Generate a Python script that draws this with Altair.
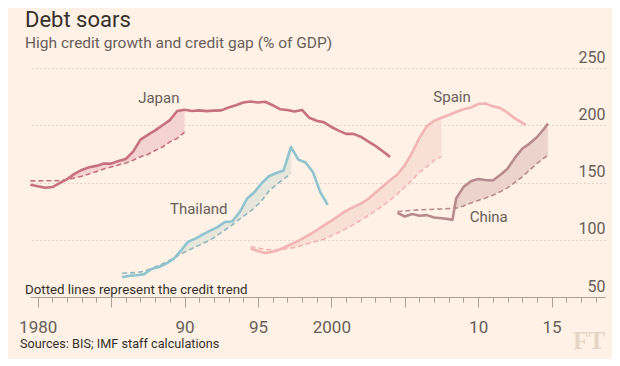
import altair as alt
import pandas as pd

# ---------------- data ----------------
japan_years = [1979.5, 1980, 1980.5, 1981, 1981.5, 1982, 1982.5, 1983, 1983.5, 1984,
               1984.5, 1985, 1985.5, 1986, 1986.5, 1987, 1987.5, 1988, 1988.5, 1989,
               1989.5, 1990, 1990.5, 1991, 1991.5, 1992, 1992.5, 1993, 1993.5, 1994,
               1994.5, 1995, 1995.5, 1996, 1996.5, 1997, 1997.5, 1998, 1998.5, 1999,
               1999.5, 2000, 2000.5, 2001, 2001.5, 2002, 2002.5, 2003, 2003.5, 2004]
japan_credit = [148, 146.8, 145.4, 146, 149.5, 153, 157.5, 161, 163.3, 164.5,
                166.5, 166.5, 168.7, 170.5, 177, 187.5, 191.6, 195.5, 200, 204.5,
                212.5, 213.5, 212.5, 213, 212.3, 212.8, 213, 215.5, 217.5, 219.8,
                220.8, 219.8, 220.5, 217.5, 214, 213.3, 212, 213.4, 206.5, 204,
                202.5, 198.5, 195.3, 192.5, 192.5, 190, 186, 182, 177.3, 172.4]
japan_trend = [151.4, 151.4, 151.5, 151.5, 151.6, 152.5, 154, 155.5, 157.5, 159.5,
               161.8, 163.5, 165.2, 167, 169.5, 172.5, 174.5, 178, 181, 185.5,
               188.5, 194]

thai_years = [1985.75, 1986.25, 1986.75, 1987.25, 1987.75, 1988.25, 1988.75, 1989.25,
              1989.75, 1990.25, 1990.75, 1991.25, 1991.75, 1992.25, 1992.75, 1993.25,
              1993.75, 1994.25, 1994.75, 1995.25, 1995.75, 1996.25, 1996.75, 1997.25,
              1997.75, 1998.25, 1998.75, 1999.25, 1999.75]
thai_credit = [67.3, 68.6, 69, 70, 74.5, 76.2, 79.2, 83.2, 90.5, 98.3, 101, 104.7, 108,
               111, 115.5, 116, 124, 135.8, 141.5, 149.3, 155.5, 158.3, 160.5, 181,
               170, 167.5, 158.9, 141.5, 130.5]
thai_trend = [70.7, 71, 71.4, 72.5, 75, 77.5, 80.5, 83.8, 87.5, 90.6, 93.8, 96.8, 99.8,
              104, 108.5, 113, 118, 122.8, 127.5, 134, 142.5, 148, 153, 157.8]

spain_years = [1994.5, 1995, 1995.5, 1996, 1996.5, 1997, 1997.5, 1998, 1998.5, 1999,
               1999.5, 2000, 2000.5, 2001, 2001.5, 2002, 2002.5, 2003, 2003.5, 2004,
               2004.5, 2005, 2005.5, 2006, 2006.5, 2007, 2007.5, 2008, 2008.5, 2009,
               2009.5, 2010, 2010.5, 2011, 2011.5, 2012, 2012.5, 2013, 2013.25]
spain_credit = [92.4, 90.2, 88.5, 89.5, 91.5, 94.5, 97.5, 100.8, 104.5, 108.3,
                112.5, 116.5, 121, 125.2, 128.5, 131.5, 135.5, 141, 146.5, 152,
                157, 165, 176, 189, 199, 204, 206.5, 209, 211.5, 214,
                215.5, 218.5, 219, 216.5, 215, 211, 206, 202, 200.3]
spain_trend = [94, 92.8, 91.6, 91.1, 91.5, 92.2, 93.3, 95, 97, 98.8, 100.5, 103.5,
               106.5, 109.7, 113.2, 117, 121, 125, 129.8, 134.7, 140, 146, 152,
               158.8, 163.8, 169.3, 172.6]

china_years = [2004.5, 2005, 2005.5, 2006, 2006.5, 2007, 2007.5, 2008, 2008.25, 2008.5,
               2009, 2009.5, 2010, 2010.5, 2011, 2011.5, 2012, 2012.5, 2013, 2013.5,
               2014, 2014.5, 2014.75]
china_credit = [123.5, 120.3, 122.5, 121, 121.5, 119.5, 118.8, 118, 117.3, 136,
                146, 151, 153, 152.2, 151.7, 156.6, 162, 171.5, 179.5, 184,
                189.5, 197, 201.5]
china_trend = [124.6, 125.1, 125.6, 126.2, 126.4, 126.6, 126.9, 127.2, 127.4, 127.6,
               129.5, 132.1, 134.3, 136.4, 138.8, 142, 145.3, 150, 155, 160.7,
               166.5, 171.5, 174]

x_ticks = list(range(1980, 2019))
y_ticks = [50, 100, 150, 200, 250]

labels = ["Japan", "Thailand", "Spain", "China"]
label_year = [1988.25, 1990.97, 2008.22, 2010.72]
label_value = [219.6, 122.6, 220.7, 115.8]

# ---------------- styling ----------------
FONT = "Roboto"
BG = "#fff1e5"
TXT = "#66605c"

series = [
    # years, credit, trend, line colour, trend colour, fill colour
    (japan_years, japan_credit, japan_trend, "#c7707f", "#c7707f", "#f5d3d1"),
    (thai_years, thai_credit, thai_trend, "#8ec4d0", "#8fb6bd", "#e6e6dc"),
    (spain_years, spain_credit, spain_trend, "#f2b3b3", "#f2b3b3", "#f9e0d6"),
    (china_years, china_credit, china_trend, "#b78b8d", "#b78b8d", "#ecd3cc"),
]

x_scale = alt.Scale(domain=[1979.475, 2018.64], nice=False, zero=False)
x_axis = alt.Axis(
    values=x_ticks,
    title=None,
    grid=False,
    domainColor="#a9a098",
    tickColor="#a9a098",
    tickSize={"condition": {"test": "datum.value % 5 === 0", "value": 10}, "value": 5},
    labelExpr="indexof([1980, 2000], datum.value) >= 0 ? '' + datum.value : "
              "(indexof([1990, 1995, 2010, 2015], datum.value) >= 0 ? substring('' + datum.value, 2) : '')",
    labelOverlap=False,
    labelFont=FONT,
    labelFontSize=17,
    labelColor=TXT,
    labelPadding=12,
)
y_scale = alt.Scale(domain=[50, 250], nice=False, zero=False)
y_axis = alt.Axis(
    orient="right",
    values=y_ticks,
    title=None,
    domain=False,
    ticks=False,
    tickSize=0,
    grid=True,
    gridColor="#c4b7ac",
    gridDash=[1, 3],
    labelAlign="right",
    labelBaseline="bottom",
    labelOffset=-3,
    labelPadding=0,
    labelFont=FONT,
    labelFontSize=16,
    labelColor=TXT,
)


def X(field="year:Q"):
    return alt.X(field, scale=x_scale, axis=x_axis)


def Y(field="value:Q"):
    return alt.Y(field, scale=y_scale, axis=y_axis)


layers = []
for yrs, credit, trend, lc, tc, fc in series:
    df = pd.DataFrame({"year": yrs, "value": credit})
    df["trend"] = list(trend) + [None] * (len(yrs) - len(trend))
    dft = df.dropna(subset=["trend"]).copy()
    dft["top"] = dft[["value", "trend"]].max(axis=1)

    area = alt.Chart(dft).mark_area(color=fc, opacity=1).encode(
        x=X(), y=Y("top:Q"), y2="trend:Q"
    )
    dashed = alt.Chart(dft).mark_line(color=tc, strokeWidth=1.6, strokeDash=[5, 3]).encode(
        x=X(), y=Y("trend:Q")
    )
    solid = alt.Chart(df).mark_line(color=lc, strokeWidth=2.6, strokeJoin="round").encode(
        x=X(), y=Y()
    )
    layers += [area, dashed, solid]

lab_df = pd.DataFrame({"year": label_year, "value": label_value, "label": labels})
country_labels = alt.Chart(lab_df).mark_text(
    font=FONT, fontSize=15, color=TXT, align="center", baseline="alphabetic"
).encode(x=X(), y=Y(), text="label:N")
layers.append(country_labels)

one = pd.DataFrame({"t": [0]})


def note(text, x, y, size, color, align="left", font=FONT, weight="normal"):
    return alt.Chart(one).mark_text(
        text=text, font=font, fontSize=size, color=color, align=align,
        baseline="alphabetic", fontWeight=weight
    ).encode(x=alt.value(x), y=alt.value(y))


layers += [
    note("Debt soars", -5, -41, 22, "#33302e"),
    note("High credit growth and credit gap (% of GDP)", -5, -20, 15.5, TXT),
    note("Dotted lines represent the credit trend", -5, 226, 13.3, "#33302e"),
    note("Sources: BIS; IMF staff calculations", -10, 280, 12.7, "#33302e"),
    note("FT", 575, 281, 25, "#e6d5c5", align="right", font="Liberation Serif", weight="bold"),
]

chart = alt.layer(*layers).properties(
    width=575,
    height=229,
    background=BG,
    padding={"left": 22, "top": 60, "right": 7, "bottom": 62},
    autosize=alt.AutoSizeParams(type="none"),
).configure_view(stroke=None)

chart.save("out.html", embed_options={"renderer": "svg", "actions": False})
